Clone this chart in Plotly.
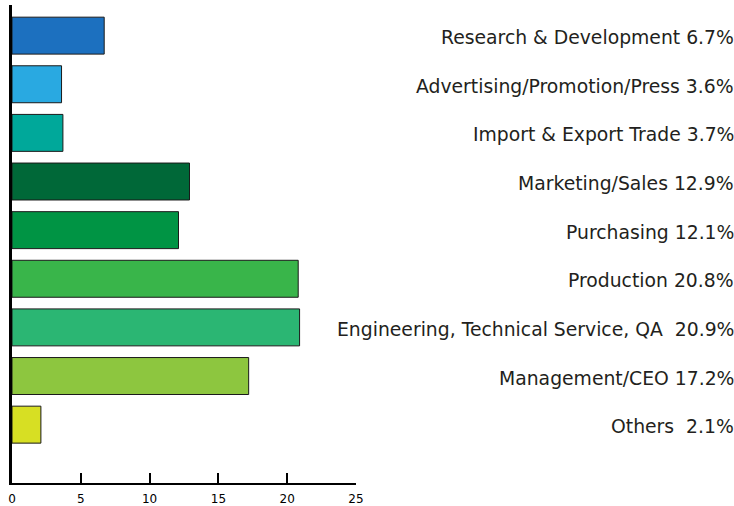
import plotly.graph_objects as go

categories = ["Others", "Management/CEO", "Engineering, Technical Service, QA",
              "Production", "Purchasing", "Marketing/Sales",
              "Import & Export Trade", "Advertising/Promotion/Press",
              "Research & Development"]
values = [2.1, 17.2, 20.9, 20.8, 12.1, 12.9, 3.7, 3.6, 6.7]
labels = ["Others  2.1%", "Management/CEO 17.2%", "Engineering, Technical Service, QA  20.9%",
          "Production 20.8%", "Purchasing 12.1%", "Marketing/Sales 12.9%",
          "Import & Export Trade 3.7%", "Advertising/Promotion/Press 3.6%",
          "Research & Development 6.7%"]
colors = ["#d7df23", "#8dc63f", "#2bb673", "#39b54a", "#009444", "#006838",
          "#00a89a", "#29a9e1", "#1c70bf"]
xticks = [0, 5, 10, 15, 20, 25]

pos = list(range(len(categories)))

fig = go.Figure(go.Bar(
    x=values, y=pos, orientation="h",
    marker=dict(color=colors, line=dict(color="#1a1a1a", width=1)),
    width=0.76, hoverinfo="skip",
))

L, R, T, B = 12, 378, 5, 23
W = 734
for p, lab in zip(pos, labels):
    fig.add_annotation(
        x=(736 - L) / (W - L - R), xref="paper", y=p, yref="y",
        text=lab, showarrow=False, xanchor="right", yanchor="middle",
        yshift=-2,
        font=dict(family="DejaVu Sans", size=18.8, color="#231f20"),
    )

fig.update_layout(
    width=734, height=506,
    margin=dict(l=L, r=R, t=T, b=B, pad=0, autoexpand=False),
    paper_bgcolor="white", plot_bgcolor="white",
    showlegend=False, bargap=0.24,
    xaxis=dict(range=[0, 25], tickvals=xticks, ticktext=[str(t) for t in xticks],
               ticks="inside", ticklen=10, tickwidth=2, tickcolor="black",
               showline=True, linecolor="black", linewidth=2,
               showgrid=False, zeroline=False, ticklabelstandoff=4,
               automargin=False,
               tickfont=dict(family="DejaVu Sans", size=12, color="black")),
    yaxis=dict(range=[-1.2, 8.63], showticklabels=False, ticks="",
               showline=True, linecolor="black", linewidth=3,
               showgrid=False, zeroline=False, automargin=False),
)

fig.write_html("out.html", config={"displayModeBar": False},
               post_script="document.body.style.margin='0';document.body.style.overflow='hidden';")
